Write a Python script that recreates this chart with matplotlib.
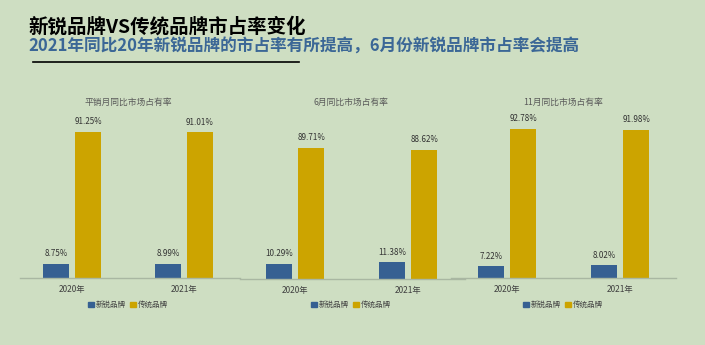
import matplotlib
matplotlib.use('Agg')
import matplotlib.pyplot as plt
from matplotlib.lines import Line2D
from matplotlib.patches import Patch

plt.rcParams['font.family'] = ['Noto Sans CJK SC', 'DejaVu Sans']

years = ['2020年', '2021年']
panel_titles = ['平销月同比市场占有率', '6月同比市场占有率', '11月同比市场占有率']
new_brand = [[8.75, 8.99], [10.29, 11.38], [7.22, 8.02]]
old_brand = [[91.25, 91.01], [89.71, 88.62], [92.78, 91.98]]
new_labels = [['8.75%', '8.99%'], ['10.29%', '11.38%'], ['7.22%', '8.02%']]
old_labels = [['91.25%', '91.01%'], ['89.71%', '88.62%'], ['92.78%', '91.98%']]
series_names = ['新锐品牌', '传统品牌']

bg = '#CEDEC2'
blue = '#366092'
gold = '#CCA400'
W, H = 705, 345

fig = plt.figure(figsize=(W / 100, H / 100), dpi=100, facecolor=bg)

# panel geometry in pixels: left, right, baseline, top(=100%), xlim
panels = [
    (20, 240, 278, 118, (-0.464, 1.5)),
    (240, 465, 279, 133, (-0.487, 1.504)),
    (451, 676, 278, 117, (-0.496, 1.496)),
]

for i, (l, r, base, top, xl) in enumerate(panels):
    ax = fig.add_axes([l / W, 1 - base / H, (r - l) / W, (base - top) / H])
    ax.patch.set_visible(False)
    x = [0, 1]
    bw = 0.232
    off = 0.143
    b1 = ax.bar([v - off for v in x], new_brand[i], bw, color=blue, label=series_names[0])
    b2 = ax.bar([v + off for v in x], old_brand[i], bw, color=gold, label=series_names[1])
    for bars, labs in ((b1, new_labels[i]), (b2, old_labels[i])):
        for b, t in zip(bars, labs):
            ax.annotate(t, (b.get_x() + b.get_width() / 2, b.get_height()),
                        xytext=(0, 4), textcoords='offset points',
                        ha='center', va='bottom', fontsize=5.8, color='#333333')
    ax.set_xlim(*xl)
    ax.set_ylim(0, 100)
    ax.set_yticks([])
    ax.set_xticks(x)
    ax.set_xticklabels(years, fontsize=6, color='#404040')
    ax.tick_params(axis='x', length=0, pad=5)
    for s in ['top', 'right', 'left']:
        ax.spines[s].set_visible(False)
    ax.spines['bottom'].set_color('#A9B7A2')
    ax.spines['bottom'].set_linewidth(1)

    cx = (l + r) / 2
    centers = [128, 351, 563]
    fig.text(centers[i] / W, 1 - 102 / H, panel_titles[i], ha='center', va='center',
             fontsize=6.3, color='#595959')
    handles = [Patch(color=blue), Patch(color=gold)]
    fig.legend(handles, series_names, loc='center', ncol=2, frameon=False,
               bbox_to_anchor=(centers[i] / W, 1 - 305 / H), bbox_transform=fig.transFigure,
               fontsize=5.4, handlelength=0.7, handleheight=0.7, handletextpad=0.3,
               columnspacing=0.6, labelcolor='#404040')

fig.text(28 / W, 1 - 27 / H, '新锐品牌VS传统品牌市占率变化', fontsize=14, weight='bold',
         color='black', va='center', ha='left')
fig.text(28 / W, 1 - 46 / H, '2021年同比20年新锐品牌的市占率有所提高，6月份新锐品牌市占率会提高',
         fontsize=12, weight='bold', color='#3B6796', va='center', ha='left')
fig.add_artist(Line2D([33 / W, 299 / W], [1 - 62 / H, 1 - 62 / H], color='black', lw=1.2))

fig.savefig('out.png', dpi=100, facecolor=bg)
